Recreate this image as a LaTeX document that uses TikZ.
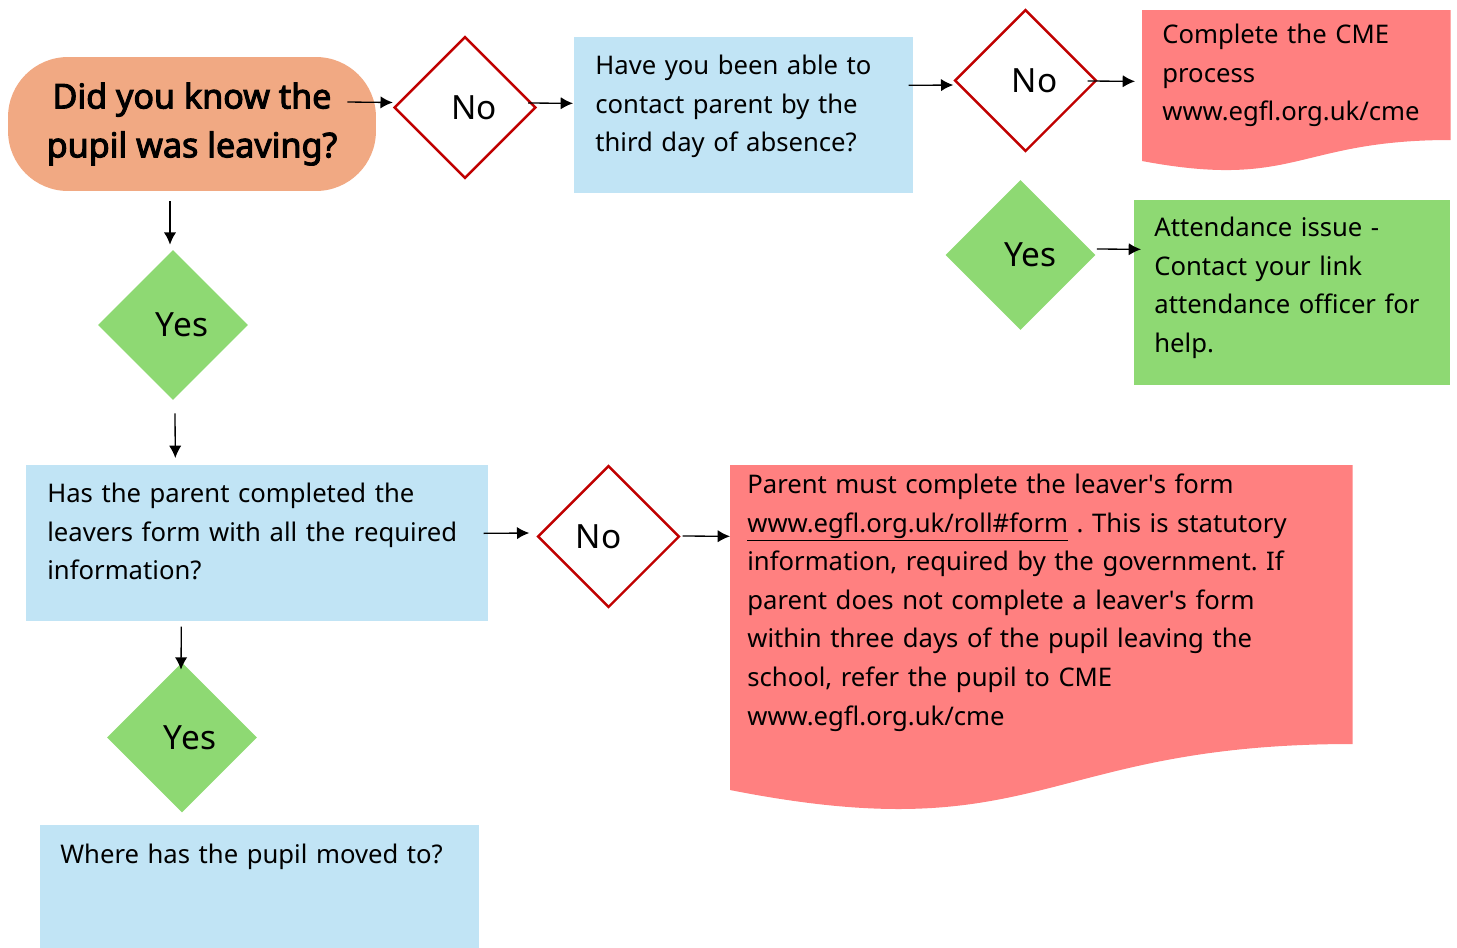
\documentclass[tikz,border=0pt]{standalone}
\usepackage{fontspec}
\setmainfont{Noto Sans}[AutoFakeBold=3]
\usetikzlibrary{calc, positioning, shapes.geometric, arrows.meta, backgrounds}
\definecolor{pillorange}{HTML}{F1A983}
\definecolor{boxblue}{HTML}{C1E4F5}
\definecolor{docred}{HTML}{FF8080}
\definecolor{yesgreen}{HTML}{8ED973}
\definecolor{nored}{HTML}{C00000}
\newcommand{\BodyFont}{\frenchspacing\fontsize{14.6}{22}\selectfont}
\newcommand{\ChoiceFont}{\fontsize{19}{22}\selectfont}
\tikzset{
  arr/.style={-{Latex[length=7pt,width=7pt]}, line width=0.75pt},
  noshape/.style={diamond, draw=nored, line width=1.4pt, fill=white,
    minimum width=2.84cm, minimum height=2.84cm, inner sep=0pt, font=\ChoiceFont},
  yesshape/.style={diamond, fill=yesgreen,
    minimum width=3cm, minimum height=3cm, inner sep=0pt, font=\ChoiceFont},
  infobox/.style={rectangle, anchor=north west, inner ysep=0pt, align=left, font=\BodyFont}
}

\begin{document}
\begin{tikzpicture}[x=0.02cm, y=-0.02cm]
            \useasboundingbox (0,0) rectangle (1457,947);

            \node[fill=pillorange, rounded corners=1.2cm, minimum width=7.36cm, minimum height=2.68cm,
              align=center, font=\bfseries\fontsize{19.4}{27.8}\selectfont] (leaving) at (192,124)
              {Did you know the\\pupil was leaving?};

            \node[noshape] (notold) at (465,107.5) {\hspace*{0.36cm}No};
            \node[infobox, fill=boxblue, text width=5.94cm, inner xsep=0.42cm,
              text height=0.74cm, text depth=2.38cm] (contact) at (574,37)
              {Have you been able to\\contact parent by the\\third day of absence?};

            \node[noshape] (nocontact) at (1025.5,80.5) {\hspace*{0.36cm}No};
            \node[infobox, text width=5.36cm, inner xsep=0.4cm,
              text height=0.66cm, text depth=2.58cm] (cmeprocess) at (1142,10)
              {Complete the CME\\process\\www.egfl.org.uk/cme};

            \node[yesshape] (yescontact) at (1020.5,255) {\hspace*{0.4cm}Yes};
            \node[infobox, fill=yesgreen, text width=5.52cm, inner xsep=0.4cm,
              text height=0.72cm, text depth=2.98cm] (attendance) at (1134,200)
              {Attendance issue -\\Contact your link\\attendance~officer~for\\help.};

            \node[yesshape] (yesleaving) at (173,325) {\hspace*{0.36cm}Yes};
            \node[infobox, fill=boxblue, text width=8.4cm, inner xsep=0.42cm,
              text height=0.74cm, text depth=2.38cm] (form) at (26,465)
              {Has the parent completed the\\leavers~form~with~all~the~required\\information?};

            \node[noshape] (noform) at (608.5,536.5) {No\hspace*{0.4cm}};
            \node[infobox, text width=11.76cm, inner xsep=0.34cm,
              text height=0.56cm, text depth=6.4cm] (leaverform) at (730,465)
              {Parent must complete the leaver\textquotesingle s form\\
               \underline{www.egfl.org.uk/roll\#form} . This is statutory\\
               information, required by the government. If\\
               parent does not complete a leaver\textquotesingle s form\\
               within three days of the pupil leaving the\\
               school, refer the pupil to CME\\
               www.egfl.org.uk/cme};

            \node[yesshape] (yesform) at (182,737.5) {\hspace*{0.32cm}Yes};
            \node[infobox, fill=boxblue, text width=7.98cm, inner xsep=0.4cm,
              text height=0.76cm, text depth=2.36cm] (moved) at (40,825)
              {Where has the pupil moved to?};

            \begin{scope}[on background layer]
              \fill[docred] (cmeprocess.north west) -- (cmeprocess.north east)
                -- ($(cmeprocess.north east)+(0,130)$)
                .. controls ($(cmeprocess.north)+(0,130)$) and ($(cmeprocess.north)+(0,180)$)
                .. ($(cmeprocess.north west)+(0,151)$) -- cycle;
              \fill[docred] (leaverform.north west) -- (leaverform.north east)
                -- ($(leaverform.north east)+(0,279)$)
                .. controls ($(leaverform.north)+(0,279)$) and ($(leaverform.north)+(0,386.5)$)
                .. ($(leaverform.north west)+(0,325)$) -- cycle;
            \end{scope}

            \draw[arr] ($(leaving.east)+(-29,-22)$) -- ($(notold.west)+(0,-5)$);
            \draw[arr] ($(notold.east)+(-9,-4.5)$) -- ($(contact.west)+(-1,-12)$);
            \draw[arr] ($(contact.east)+(-5,-30)$) -- ($(nocontact.west)+(0,4.5)$);
            \draw[arr] ($(nocontact.east)+(-10,0.5)$) -- ($(cmeprocess.west)+(-7,-10)$);
            \draw[arr] ($(yescontact.east)+(1,-6)$) -- ($(attendance.west)+(7,-43.5)$);
            \draw[arr] ($(leaving.south)+(-22,10)$) -- ($(yesleaving.north)+(-3,-5)$);
            \draw[arr] ($(yesleaving.south)+(2,13)$) -- ($(form.north)+(-82,-7)$);
            \draw[arr] ($(form.east)+(-5,-10)$) -- ($(noform.west)+(-7,-3.5)$);
            \draw[arr] ($(noform.east)+(2,-0.5)$) -- ($(leaverform.west)+(0,-103)$);
            \draw[arr] ($(form.south)+(-76,5)$) -- ($(yesform.north)+(-1,7.5)$);
        \end{tikzpicture}
\end{document}
